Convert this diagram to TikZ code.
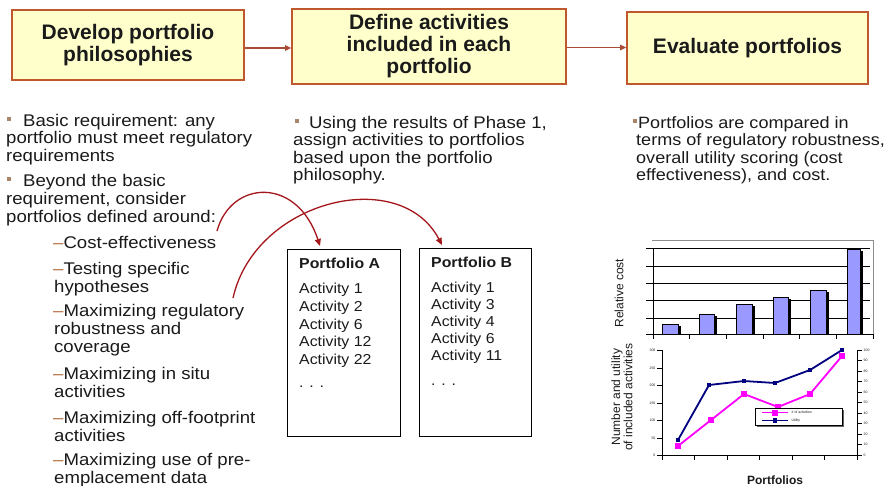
\documentclass[tikz,border=0pt]{standalone}
\usepackage{fontspec}
\setmainfont{Liberation Sans}
\newfontfamily\bodyf{Liberation Sans}[FakeStretch=1.1]
\usetikzlibrary{arrows.meta,calc}
\definecolor{boxfill}{HTML}{FFFFCC}
\definecolor{boxline}{HTML}{C0582E}
\definecolor{flowc}{HTML}{A84C36}
\definecolor{curvec}{HTML}{A3161C}
\definecolor{bulc}{HTML}{A88468}
\definecolor{dashc}{HTML}{B0683A}
\definecolor{barc}{HTML}{9999FF}
\definecolor{navyc}{HTML}{000080}
\definecolor{magc}{HTML}{FF00FF}
\definecolor{txt}{HTML}{1A1A1A}
\begin{document}
\begin{tikzpicture}[x=1pt,y=-1pt,
  hbox/.style={draw=boxline, line width=1.6pt, fill=boxfill, align=center, text=txt,
    font=\fontsize{21}{22}\selectfont\bfseries, inner sep=0pt},
  flow/.style={draw=flowc, line width=1.8pt, -{Triangle[length=6pt,width=5.5pt]}},
  curvearrow/.style={draw=curvec, line width=1.3pt, -{Triangle[length=7pt,width=6pt]}},
  txtline/.style={anchor=base west, inner sep=0pt, text=txt, font=\bodyf\fontsize{16.9}{18}\selectfont},
  rtxtline/.style={anchor=base west, inner sep=0pt, text=txt, font=\bodyf\fontsize{16.4}{18}\selectfont},
  bul/.style={fill=bulc, minimum size=4pt, inner sep=0pt},
  pbox/.style={draw=black, line width=1.3pt, inner sep=0pt, anchor=north west},
  ptxt/.style={anchor=base west, inner sep=0pt, text=txt, font=\bodyf\fontsize{14.4}{17}\selectfont},
  tinylab/.style={font=\fontsize{3.5}{4}\selectfont, inner sep=0.4pt, text=txt},
  axlab/.style={rotate=90, align=center, text=txt, font=\fontsize{12}{11}\selectfont, inner sep=0pt}
]
\useasboundingbox (0,0) rectangle (890,485);

% top flow boxes
\node[hbox, minimum width=232pt, minimum height=70pt] (b1) at (128,45) {Develop portfolio\\philosophies};
\node[hbox, minimum width=274pt, minimum height=75pt] (b2) at (429,46.5) {Define activities\\included in each\\portfolio};
\node[hbox, minimum width=241pt, minimum height=72pt] (b3) at (747.5,48) {Evaluate portfolios};
\draw[flow] ([yshift=-3pt]b1.east) -- ([yshift=-3pt]b1.east -| b2.west);
\draw[flow] ([yshift=-1pt]b2.east) -- ([yshift=-1pt]b2.east -| b3.west);

% left column
\node[bul] (bu1) at (8.5,119) {};
\node[bul] (bu2) at (8.5,179) {};
\foreach \x/\y/\t [count=\i] in {
  23/126/{Basic requirement: any},
  6/143.5/{portfolio must meet regulatory},
  6/161/{requirements},
  23/186/{Beyond the basic},
  6/204/{requirement, consider},
  6/222/{portfolios defined around:},
  53/248/{\textcolor{dashc}{–}Cost-effectiveness},
  53/274/{\textcolor{dashc}{–}Testing specific},
  54/292/{hypotheses},
  53/316/{\textcolor{dashc}{–}Maximizing regulatory},
  54/334/{robustness and},
  54/352.5/{coverage},
  53/379/{\textcolor{dashc}{–}Maximizing in situ},
  54/397/{activities},
  53/423/{\textcolor{dashc}{–}Maximizing off-footprint},
  54/441/{activities},
  53/465/{\textcolor{dashc}{–}Maximizing use of pre-},
  54/483/{emplacement data}}
  \node[txtline] (l\i) at (\x,\y) {\t};

% middle column
\node[bul] (bu3) at (296.5,121) {};
\foreach \x/\y/\t [count=\i] in {
  309/128/{Using the results of Phase 1,},
  293/145.5/{assign activities to portfolios},
  293/163/{based upon the portfolio},
  293/180.5/{philosophy.}}
  \node[txtline] (m\i) at (\x,\y) {\t};

% right column
\node[bul] (bu4) at (634.5,121) {};
\foreach \x/\y/\t [count=\i] in {
  638/128/{Portfolios are compared in},
  636/145.5/{terms of regulatory robustness,},
  636/163/{overall utility scoring (cost},
  636/180.5/{effectiveness), and cost.}}
  \node[rtxtline] (r\i) at (\x,\y) {\t};

% portfolio boxes
\node[pbox, minimum width=113pt, minimum height=187pt] (pa) at (287,249) {};
\node[pbox, minimum width=112pt, minimum height=188pt] (pb) at (419,248) {};
\node[ptxt, font=\bodyf\fontsize{14.4}{17}\selectfont\bfseries] (pah) at (299,268) {Portfolio A};
\foreach \y/\t [count=\i] in {293/Activity 1, 311/Activity 2, 329/Activity 6, 346.5/Activity 12, 364/Activity 22, 387/. . .}
  \node[ptxt] (pa\i) at (299,\y) {\t};
\node[ptxt, font=\bodyf\fontsize{14.4}{17}\selectfont\bfseries] (pbh) at (431,267) {Portfolio B};
\foreach \y/\t [count=\i] in {292/Activity 1, 309/Activity 3, 326/Activity 4, 343/Activity 6, 360/Activity 11, 385/. . .}
  \node[ptxt] (pb\i) at (431,\y) {\t};

% curved arrows
\coordinate (c1s) at (217,231);
\coordinate (c1e) at ($(pa.north west)+(33,-3)$);
\coordinate (c2s) at (233,298);
\coordinate (c2e) at ($(pb.north west)+(23,-3)$);
\draw[curvearrow] (c1s) .. controls (231,180) and (297,176) .. (c1e);
\draw[curvearrow] (c2s) .. controls (255,200) and (400,165) .. (c2e);

% bar chart
\draw[black!45, line width=0.8pt] (652,240) -- (873,240) -- (873,335);
\foreach \yy in {248,266,283,300,318}
  \draw[line width=0.9pt] (653,\yy) -- (870,\yy);
\foreach \xl/\xr/\tp in {662/678/324, 699/714/314, 736/752/304, 773/788/297, 810/826/290, 847/860/249}{
  \fill[black] (\xl+2.5,\tp+1.5) rectangle (\xr+2.5,334);
  \filldraw[fill=barc, draw=black, line width=0.6pt] (\xl,\tp) rectangle (\xr,334);
}
\draw[line width=0.9pt] (653,248) -- (653,334) -- (873,334);
\foreach \yy in {248,266,283,300,318,334}
  \draw[line width=0.7pt] (646,\yy) -- (653,\yy);
\foreach \xx in {653,689,726,763,799,836,873}
  \draw[line width=0.7pt] (\xx,334) -- (\xx,339);
\node[axlab] (rc) at (619,293) {Relative cost};

% line chart
\draw[line width=0.9pt] (662,350) -- (662,455) -- (857,455) -- (857,350);
\foreach \yy/\lab [count=\i] in {350/300, 368/250, 385/200, 403/150, 420/100, 438/50, 455/0}{
  \draw[line width=0.7pt] (657,\yy) -- (662,\yy);
  \node[tinylab, anchor=east] (ly\i) at (656,\yy) {\lab};
}
\foreach \i in {0,...,10}{
  \pgfmathsetmacro\yy{455-\i*10.5}
  \pgfmathtruncatemacro\vv{\i*10}
  \draw[line width=0.7pt] (857,\yy) -- (862,\yy);
  \node[tinylab, anchor=west] (ry\i) at (863,\yy) {\vv};
}
\foreach \xx in {662,694.5,727,759.5,792,824.5,857}
  \draw[line width=0.7pt] (\xx,455) -- (\xx,460);
\draw[magc, line width=1.8pt, line join=round] (678,446) -- (711,420) -- (744,394) -- (778,407) -- (810,394) -- (842,356);
\foreach \p in {{678,446},{711,420},{744,394},{778,407},{810,394},{842,356}}
  \fill[magc] (\p) +(-3,-3) rectangle +(3,3);
\draw[navyc, line width=1.8pt, line join=round] (678,440) -- (709,385) -- (744,381) -- (775,383) -- (810,370) -- (842,350);
\foreach \p in {{678,440},{709,385},{744,381},{775,383},{810,370},{842,350}}
  \fill[navyc] (\p) +(-2.2,-2.2) rectangle +(2.2,2.2);
\node[axlab] (nu) at (622,397) {Number and utility\\of included activities};

% legend
\fill[black!60] (757,410) rectangle (844,427);
\node[draw=black, fill=white, line width=0.8pt, minimum width=87pt, minimum height=17pt, inner sep=0pt, anchor=north west] (leg) at (755,408) {};
\draw[magc, line width=1.8pt] (762,412.5) -- (788,412.5);
\fill[magc] (775,412.5) +(-3,-3) rectangle +(3,3);
\node[tinylab, anchor=west] (lg1) at (791,412.5) {\# of activities};
\draw[navyc, line width=1.8pt] (762,420.5) -- (788,420.5);
\fill[navyc] (775,420.5) +(-2.2,-2.2) rectangle +(2.2,2.2);
\node[tinylab, anchor=west] (lg2) at (791,420.5) {Utility};

\node[anchor=base, inner sep=0pt, text=txt, font=\fontsize{12}{12}\selectfont\bfseries] (pf) at (775,484) {Portfolios};
\end{tikzpicture}
\end{document}
